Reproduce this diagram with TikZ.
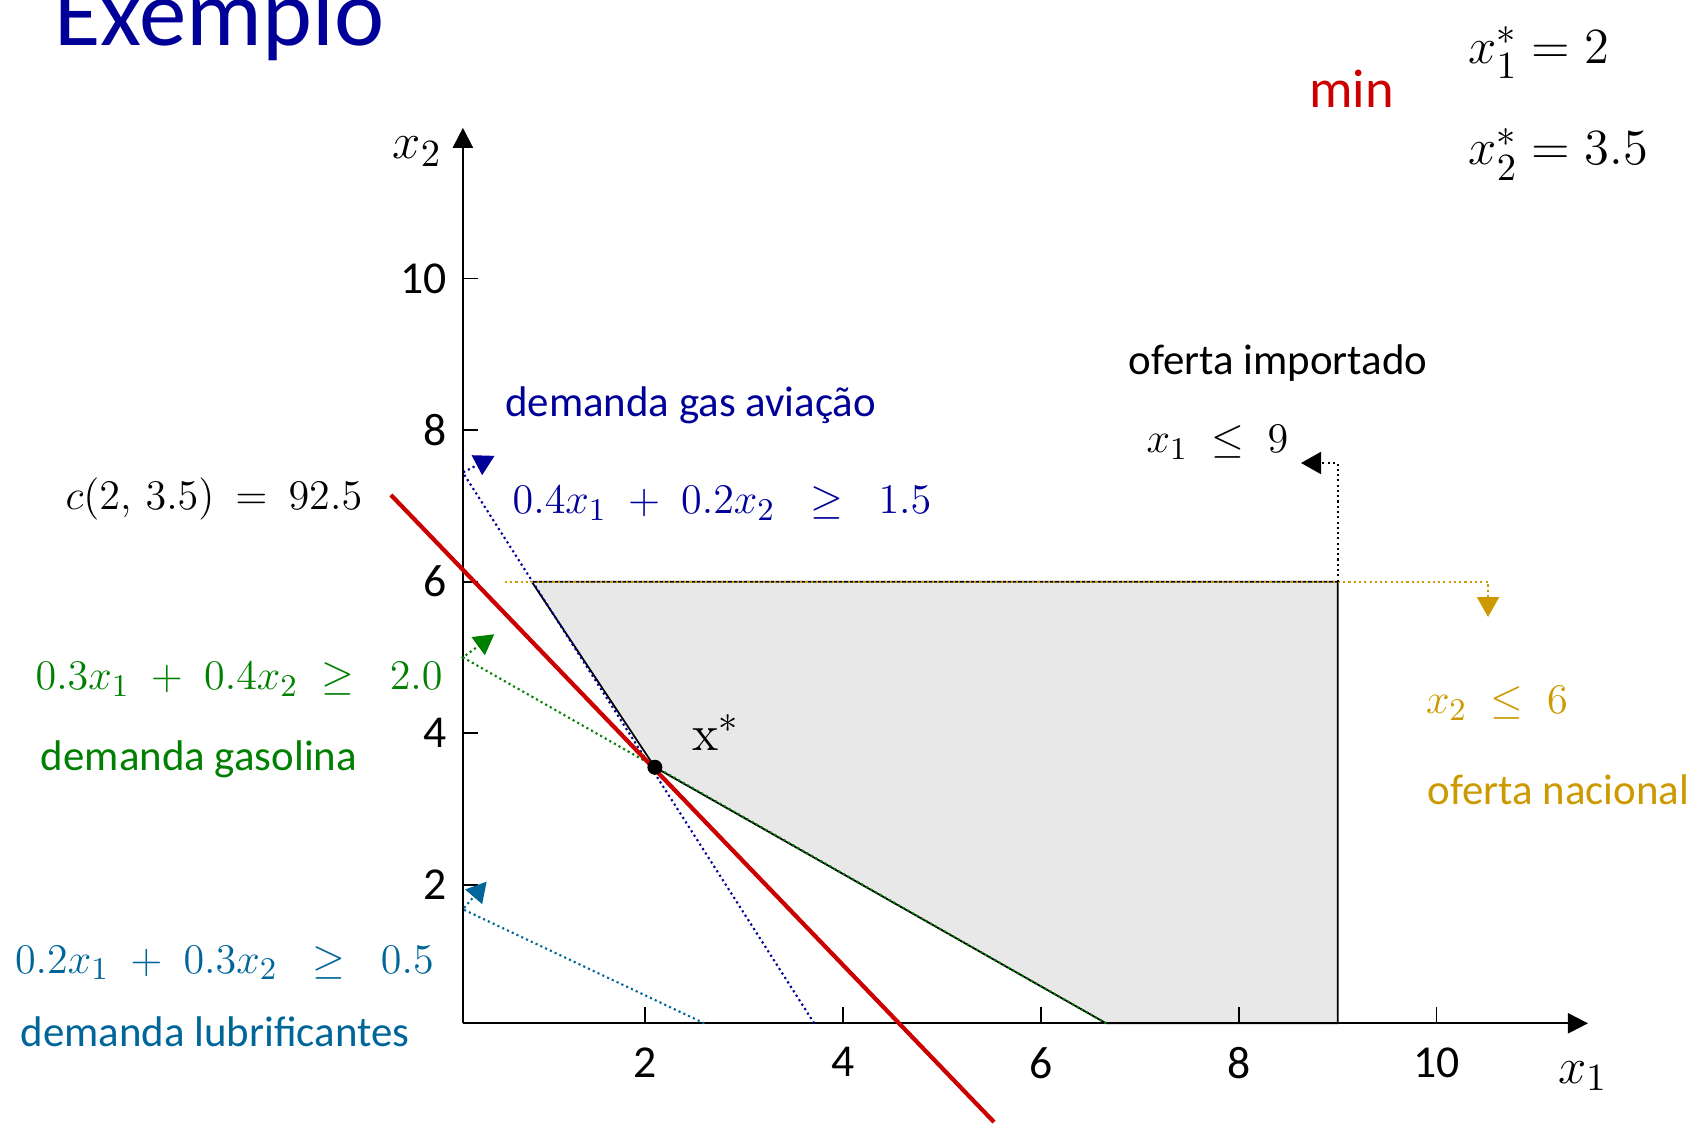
\documentclass[tikz,border=0pt]{standalone}
\usepackage{amsmath,amssymb}
\usepackage[no-math]{fontspec}
\setmainfont{Carlito}
\usepackage{tikz}
\usetikzlibrary{arrows.meta,positioning,calc}
\definecolor{cB}{HTML}{000099}
\definecolor{cR}{HTML}{CC0000}
\definecolor{cG}{HTML}{008000}
\definecolor{cT}{HTML}{006699}
\definecolor{cO}{HTML}{CC9900}
\definecolor{cF}{HTML}{E8E8E8}
\tikzset{
  axis/.style={line width=0.6pt,-{Triangle[length=2mm,width=2mm]}},
  tickmark/.style={line width=0.5pt},
  numlbl/.style={font=\fontsize{13}{15}\selectfont,inner sep=0pt},
  lbl/.style={font=\fontsize{12.2}{14}\selectfont,inner sep=0pt,anchor=base west},
  eqn/.style={font=\fontsize{13}{15}\selectfont,inner sep=0pt,anchor=base west},
  big/.style={font=\fontsize{15.5}{18}\selectfont,inner sep=0pt,anchor=base west},
  cons/.style={line width=0.6pt,dash pattern=on 0.6pt off 0.9pt},
  consarrow/.style={cons,-{Triangle[length=2mm,width=2.2mm]}},
  objline/.style={cR,line width=1.2pt},
  region/.style={fill=cF,draw=black,line width=0.5pt},
  optdot/.style={circle,fill=black,inner sep=0pt,minimum size=1.5mm},
}
\newcommand{\gp}{\;\;}

\begin{document}
\begin{tikzpicture}[x=0.9895cm,y=0.7576cm]
  \useasboundingbox (-4.518,-1.172) rectangle (12.662,13.677);
  % feasible region
  \coordinate (A) at (0.855,6);
  \coordinate (opt) at (2.1,3.55);
  \coordinate (B) at (6.66,0.17);
  \coordinate (C) at (9,0.17);
  \coordinate (D) at (9,6);
  \filldraw[region] (A) -- (opt) -- (B) -- (C) -- (D) -- cycle;
  % axes
  \coordinate (O) at (0.16,0.17);
  \coordinate (X1) at (11.53,0.17);
  \coordinate (X2) at (0.16,11.99);
  \draw[axis] (O) -- (X1);
  \draw[axis] (O) -- (X2);
  \foreach \t in {2,4,...,10}{
    \draw[tickmark] (\t,0.17) -- (\t,0.39);
    \node[numlbl,anchor=north] (xt\t) at (\t,-0.14) {\t};
    \draw[tickmark] (0.16,\t) -- (0.31,\t);
    \node[numlbl,anchor=east] (yt\t) at (0,\t) {\t};
  }
  \node[big] (x1lbl) at (11.223,-0.618) {$x_1$};
  \node[big] (x2lbl) at (-0.557,11.579) {$x_2$};
  % constraints
  \draw[consarrow,cB] (3.71,0.17) -- (0.16,7.44) -- (0.48,7.66);
  \draw[consarrow,cG] (B) -- (0.16,5.0) -- (0.477,5.305);
  \draw[consarrow,cT] (2.6,0.17) -- (0.16,1.675) -- (0.4,2.04);
  \draw[consarrow,cO] (0.585,6) -- (10.52,6) -- (10.52,5.533);
  \draw[consarrow] (D) -- (9,7.566) -- (8.63,7.566);
  % objective through x*
  \draw[objline] (-0.567,7.144) -- (5.527,-1.133);
  \node[optdot] (xs) at (opt) {};
  \node[big] (xslbl) at (2.472,3.769) {$\mathrm{x}^{*}$};
  % labels
  \node[font=\fontsize{27}{30}\selectfont,cB,inner sep=0pt,anchor=base west] (title) at (-3.973,13.07) {Exemplo};
  \node[big,cR] (minlbl) at (8.707,12.261) {min};
  \node[big] (x1opt) at (10.317,12.842) {$x_1^{*}=2$};
  \node[big] (x2opt) at (10.317,11.5) {$x_2^{*}=3.5$};
  \node[lbl,cB] (avlbl) at (0.58,8.173) {demanda gas aviação};
  \node[eqn,cB] (aveq) at (0.656,6.893) {$0.4x_1\;+\;0.2x_2\gp\ge\gp1.5$};
  \node[eqn] (cval) at (-3.862,6.946) {$c(2,\,3.5)\:=\:92.5$};
  \node[eqn,cG] (gseq) at (-4.165,4.57) {$0.3x_1\;+\;0.4x_2\;\ge\gp2.0$};
  \node[lbl,cG] (gslbl) at (-4.111,3.505) {demanda gasolina};
  \node[eqn,cT] (lbeq) at (-4.373,0.83) {$0.2x_1\;+\;0.3x_2\gp\ge\gp0.5$};
  \node[lbl,cT] (lblbl) at (-4.316,-0.139) {demanda lubrificantes};
  \node[lbl] (implbl) at (6.88,8.728) {oferta importado};
  \node[eqn] (impeq) at (7.062,7.702) {$x_1\;\le\;9$};
  \node[eqn,cO] (naceq) at (9.886,4.253) {$x_2\;\le\;6$};
  \node[lbl,cO] (naclbl) at (9.903,3.052) {oferta nacional};
\end{tikzpicture}
\end{document}
